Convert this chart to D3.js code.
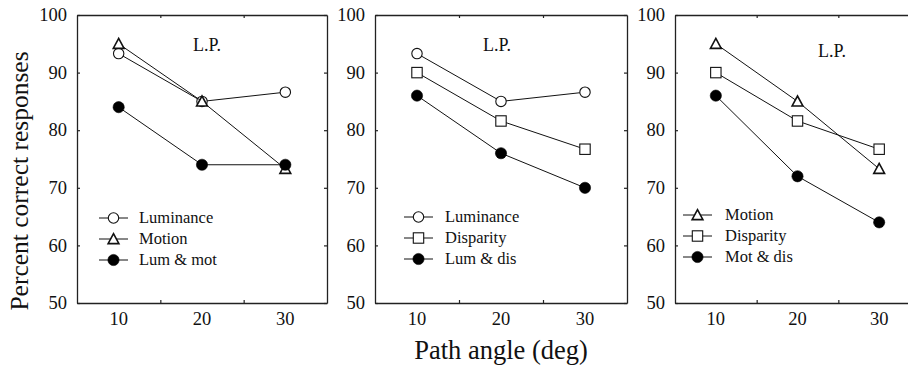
<!DOCTYPE html>
<html>
<head>
<meta charset="utf-8">
<script src="https://cdn.jsdelivr.net/npm/d3@7"></script>
<style>
  html, body { margin: 0; padding: 0; background: #fff; }
  svg { display: block; }
</style>
</head>
<body>
<svg id="chart" width="908" height="365"></svg>
<script>
// Path angle conditions (deg)
const angles = [10, 20, 30];
const xTickLabels = [10, 20, 30];
const xMinorTicks = [15, 25];
const yTicks = [50, 60, 70, 80, 90, 100];

// Percent correct responses, observer L.P.
const luminance = [93.3, 85.0, 86.6];
const motion    = [95.0, 85.0, 73.3];
const disparity = [90.0, 81.6, 76.7];
const lumMot    = [84.0, 74.0, 74.0];
const lumDis    = [86.0, 76.0, 70.0];
const motDis    = [86.0, 72.0, 64.0];

const seriesNames = {
  luminance: "Luminance", motion: "Motion", disparity: "Disparity",
  lumMot: "Lum & mot", lumDis: "Lum & dis", motDis: "Mot & dis"
};
const seriesValues = { luminance, motion, disparity, lumMot, lumDis, motDis };
const seriesMarker = {
  luminance: "circle", motion: "triangle", disparity: "square",
  lumMot: "dot", lumDis: "dot", motDis: "dot"
};

const panelSeries = [
  ["luminance", "motion", "lumMot"],
  ["luminance", "disparity", "lumDis"],
  ["motion", "disparity", "motDis"]
];

// Layout of the three panels
const panels = [
  { left: 77,  right: 327, lp: [193, 51], legend: { x: 22, tx: 62, y: [218, 239, 260] } },
  { left: 375, right: 627, lp: [483, 51], legend: { x: 29, tx: 70, y: [217, 238, 259] } },
  { left: 675, right: 920, lp: [818, 57], legend: { x: 8,  tx: 50, y: [215, 236, 257] } }
];
const plotTop = 15, plotBottom = 303;
const SERIF = '"Liberation Serif", "Times New Roman", "DejaVu Serif", serif';

const svg = d3.select("#chart").attr("font-family", SERIF);
const y = d3.scaleLinear().domain([50, 100]).range([plotBottom, plotTop]);

function label(g) {
  return g.append("text").attr("font-family", SERIF).attr("fill", "#111");
}

function drawMarker(g, type, cx, cy) {
  if (type === "circle") {
    g.append("circle").attr("cx", cx).attr("cy", cy).attr("r", 5.2)
      .attr("fill", "#fff").attr("stroke", "#111").attr("stroke-width", 1.1);
  } else if (type === "dot") {
    g.append("circle").attr("cx", cx).attr("cy", cy).attr("r", 5.6)
      .attr("fill", "#000").attr("stroke", "#000").attr("stroke-width", 0.6);
  } else if (type === "square") {
    g.append("rect").attr("x", cx - 5.2).attr("y", cy - 5.2)
      .attr("width", 10.4).attr("height", 10.4)
      .attr("fill", "#fff").attr("stroke", "#111").attr("stroke-width", 1.1);
  } else if (type === "triangle") {
    const s = 5.4;
    g.append("path")
      .attr("d", `M${cx},${cy - s}L${cx + s},${cy + s * 0.85}L${cx - s},${cy + s * 0.85}Z`)
      .attr("fill", "#fff").attr("stroke", "#111").attr("stroke-width", 1.6)
      .attr("stroke-linejoin", "miter");
  }
}

panels.forEach((p, i) => {
  const x = d3.scaleLinear().domain([5, 35]).range([p.left, p.right]);
  const g = svg.append("g");

  // Frame with inward ticks on all sides
  const axisStyle = sel => {
    sel.select(".domain").attr("stroke", "#222").attr("stroke-width", 1.3);
    sel.selectAll(".tick line").attr("stroke", "#222").attr("stroke-width", 1.2);
    sel.selectAll(".tick text").remove();
  };
  g.append("g").attr("transform", `translate(0,${plotBottom})`)
    .call(d3.axisBottom(x).tickValues(xMinorTicks).tickSizeInner(-3).tickSizeOuter(0)).call(axisStyle);
  g.append("g").attr("transform", `translate(0,${plotTop})`)
    .call(d3.axisTop(x).tickValues(xMinorTicks).tickSizeInner(-3).tickSizeOuter(0)).call(axisStyle);
  g.append("g").attr("transform", `translate(${p.left},0)`)
    .call(d3.axisLeft(y).tickValues(yTicks).tickSizeInner(-3).tickSizeOuter(0)).call(axisStyle);
  g.append("g").attr("transform", `translate(${p.right},0)`)
    .call(d3.axisRight(y).tickValues(yTicks).tickSizeInner(-3).tickSizeOuter(0)).call(axisStyle);

  // Tick labels
  xTickLabels.forEach(d => {
    label(g).attr("x", x(d)).attr("y", 325)
      .attr("text-anchor", "middle").attr("font-size", 18.5).text(d);
  });
  yTicks.forEach(d => {
    label(g).attr("x", p.left - 10).attr("y", y(d)).attr("dy", "0.34em")
      .attr("text-anchor", "end").attr("font-size", 18.5).text(d);
  });

  // Observer label
  label(g).attr("x", p.lp[0]).attr("y", p.lp[1])
    .attr("font-size", 18).text("L.P.");

  // Series lines and markers
  const line = d3.line().x((d, k) => x(angles[k])).y(d => y(d));
  panelSeries[i].forEach(key => {
    const vals = seriesValues[key];
    g.append("path").datum(vals).attr("d", line)
      .attr("fill", "none").attr("stroke", "#111").attr("stroke-width", 1);
    vals.forEach((v, k) => drawMarker(g, seriesMarker[key], x(angles[k]), y(v)));
  });

  // Legend
  panelSeries[i].forEach((key, k) => {
    const ly = p.legend.y[k];
    const lx0 = p.left + p.legend.x;
    g.append("line").attr("x1", lx0).attr("x2", lx0 + 29).attr("y1", ly).attr("y2", ly)
      .attr("stroke", "#111").attr("stroke-width", 1);
    drawMarker(g, seriesMarker[key], lx0 + 14.5, ly);
    label(g).attr("x", p.left + p.legend.tx).attr("y", ly).attr("dy", "0.33em")
      .attr("font-size", 16.5).text(seriesNames[key]);
  });
});

// Axis titles
label(svg)
  .attr("transform", `translate(28,181) rotate(-90)`)
  .attr("text-anchor", "middle").attr("font-size", 25.5)
  .text("Percent correct responses");
label(svg)
  .attr("x", 501).attr("y", 359)
  .attr("text-anchor", "middle").attr("font-size", 26.5)
  .text("Path angle (deg)");
</script>
</body>
</html>
